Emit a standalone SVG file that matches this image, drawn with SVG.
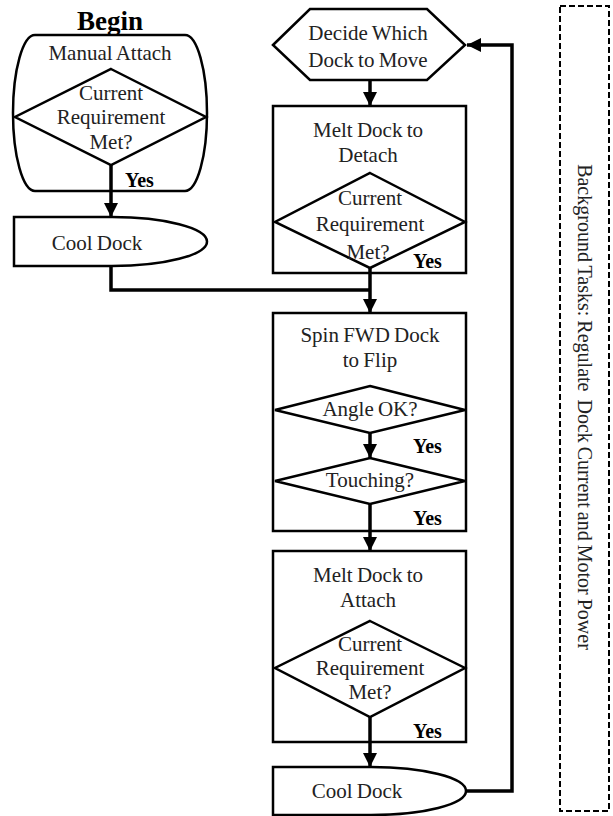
<svg xmlns="http://www.w3.org/2000/svg" width="613" height="816" viewBox="0 0 613 816">
<style>
.s{fill:#fff;stroke:#000;stroke-width:2.5}
.d{fill:none;stroke:#000;stroke-width:2.5}
.t{font-family:"Liberation Serif","Times New Roman",serif;font-size:21px;fill:#222;text-anchor:middle;word-spacing:-1px}
.b{font-family:"Liberation Serif","Times New Roman",serif;font-size:20px;font-weight:bold;fill:#000}
.c{fill:none;stroke:#000;stroke-width:3.5}
</style>
<defs>
<marker id="ah" markerUnits="userSpaceOnUse" markerWidth="16" markerHeight="16" viewBox="0 0 16 16" refX="14" refY="8" orient="auto">
<path d="M0,1 L14,8 L0,15 Z" fill="#000"/>
</marker>
</defs>
<rect width="613" height="816" fill="#fff"/>

<g id="begin">
<text class="b" x="110" y="30" text-anchor="middle" style="font-size:27px">Begin</text>
</g>

<g id="manual-attach">
<path class="s" d="M35,35 H185 A22,78 0 0 1 185,191 H35 A22,78 0 0 1 35,35 Z"/>
<text class="t" x="110" y="60">Manual Attach</text>
<path class="d" d="M111,69 L206,117 L111,165 L15,117 Z"/>
<text class="t" x="111" y="100">Current</text>
<text class="t" x="111" y="124">Requirement</text>
<text class="t" x="111" y="149">Met?</text>
<text class="b" x="125" y="187">Yes</text>
</g>

<g id="cool-dock-1">
<path class="s" d="M14,217 H112 A95,24.5 0 0 1 112,266 H14 Z"/>
<text class="t" x="97" y="250">Cool Dock</text>
</g>

<g id="decide">
<path class="s" d="M273,45 L310,9 L427,9 L465,45 L427,80 L310,80 Z"/>
<text class="t" x="368" y="40">Decide Which</text>
<text class="t" x="368" y="67">Dock to Move</text>
</g>

<g id="melt-detach">
<rect class="s" x="273" y="106" width="193" height="167"/>
<text class="t" x="368" y="137">Melt Dock to</text>
<text class="t" x="368" y="162">Detach</text>
<path class="d" d="M370,173 L465,222 L370,268 L275,222 Z"/>
<text class="t" x="370" y="205">Current</text>
<text class="t" x="370" y="231">Requirement</text>
<text class="t" x="368" y="259">Met?</text>
<text class="b" x="413" y="268">Yes</text>
</g>

<g id="spin-flip">
<rect class="s" x="273" y="313" width="193" height="218"/>
<text class="t" x="370" y="342">Spin FWD Dock</text>
<text class="t" x="370" y="367">to Flip</text>
<path class="d" d="M370,386 L465,410 L370,433 L275,410 Z"/>
<text class="t" x="370" y="416">Angle OK?</text>
<text class="b" x="413" y="453">Yes</text>
<path class="d" d="M370,458 L465,481 L370,504 L275,481 Z"/>
<text class="t" x="370" y="487">Touching?</text>
<text class="b" x="413" y="525">Yes</text>
</g>

<g id="melt-attach">
<rect class="s" x="273" y="551" width="193" height="191"/>
<text class="t" x="368" y="582">Melt Dock to</text>
<text class="t" x="368" y="607">Attach</text>
<path class="d" d="M370,621 L465,668 L370,717 L275,668 Z"/>
<text class="t" x="370" y="651">Current</text>
<text class="t" x="370" y="675">Requirement</text>
<text class="t" x="370" y="699">Met?</text>
<text class="b" x="413" y="738">Yes</text>
</g>

<g id="cool-dock-2">
<path class="s" d="M273,767 H371 A95,24 0 0 1 371,815 H273 Z"/>
<text class="t" x="357" y="798">Cool Dock</text>
</g>

<g id="background">
<rect x="560" y="6" width="49" height="805" fill="none" stroke="#000" stroke-width="2" stroke-dasharray="6,3"/>
<text class="t" transform="translate(578,407) rotate(90)" x="0" y="0" style="font-size:20px;word-spacing:-1px" xml:space="preserve">Background Tasks: Regulate  Dock Current and Motor Power</text>
</g>

<g id="connectors">
<path class="c" d="M111,165 V217" marker-end="url(#ah)"/>
<path class="c" d="M111,266 V290 H370"/>
<path class="c" d="M370,80 V106" marker-end="url(#ah)"/>
<path class="c" d="M370,268 V313" marker-end="url(#ah)"/>
<path class="c" d="M370,433 V458" marker-end="url(#ah)"/>
<path class="c" d="M370,504 V551" marker-end="url(#ah)"/>
<path class="c" d="M370,717 V767" marker-end="url(#ah)"/>
<path class="c" d="M466,791 H512 V45 H467" marker-end="url(#ah)"/>
</g>
</svg>
